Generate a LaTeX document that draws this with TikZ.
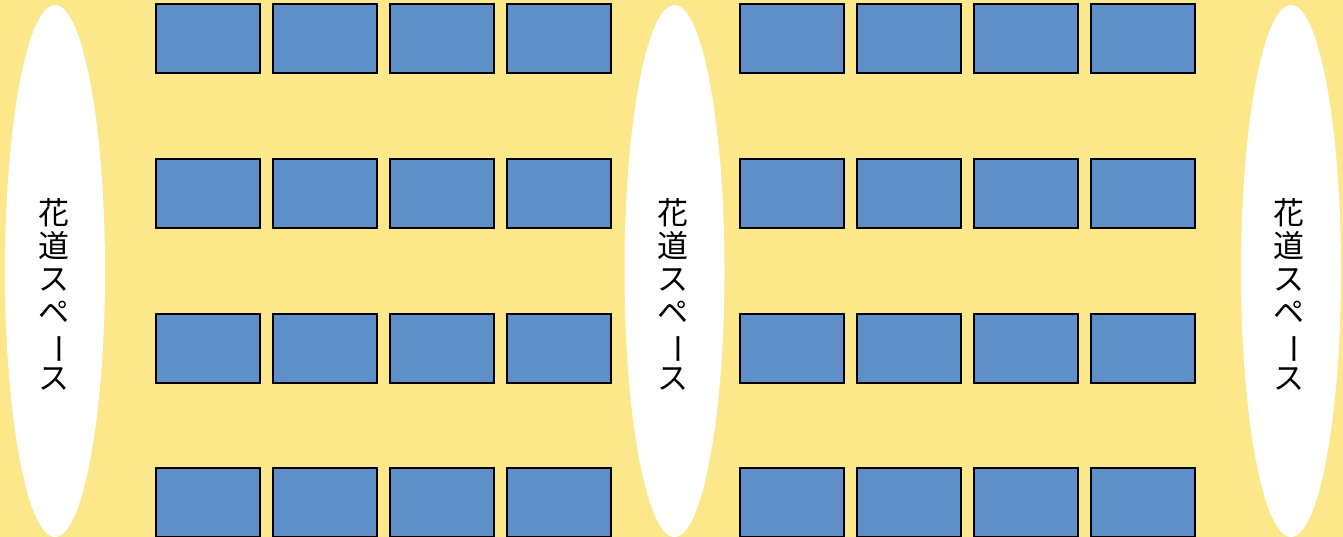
\documentclass[tikz,border=0pt]{standalone}
\usepackage{fontspec}
\newfontfamily\cjk{Noto Sans CJK JP}
\usetikzlibrary{shapes.geometric}
\definecolor{bgyellow}{RGB}{252,231,139}
\definecolor{seatblue}{RGB}{94,143,200}
\tikzset{
  seat/.style={draw=black, line width=2pt, fill=seatblue, minimum width=104pt, minimum height=69pt, inner sep=0pt, anchor=north west},
  aisle/.style={ellipse, fill=white, draw=none, minimum width=100pt, minimum height=532pt, inner sep=0pt},
  aisletext/.style={font=\cjk\fontsize{31}{33}\selectfont, align=center, inner sep=0pt}
}
\newcommand{\hanamichi}{花\\道\\ス\\ペ\\\rotatebox[origin=c]{-90}{ー}\\ス}
\begin{document}
\begin{tikzpicture}[x=1pt,y=-1pt]
  \fill[bgyellow] (0,0) rectangle (1343,537);
  \useasboundingbox (0,0) rectangle (1343,537);
  % aisles
  \node[aisle] (e1) at (55,271) {};
  \node[aisle] (e2) at (674.5,271) {};
  \node[aisle] (e3) at (1291,271) {};
  \node[aisletext] (t1) at (54,294) {\hanamichi};
  \node[aisletext] (t2) at (673,294) {\hanamichi};
  \node[aisletext] (t3) at (1289,294) {\hanamichi};
  % seats
  \foreach \r/\yy in {1/3, 2/158, 3/313, 4/467}{
    \foreach \c/\xx in {1/155, 2/272, 3/388.5, 4/505.5, 5/739, 6/856, 7/973, 8/1089.5}{
      \node[seat] (s\r\c) at (\xx,\yy) {};
    }
  }
\end{tikzpicture}
\end{document}
